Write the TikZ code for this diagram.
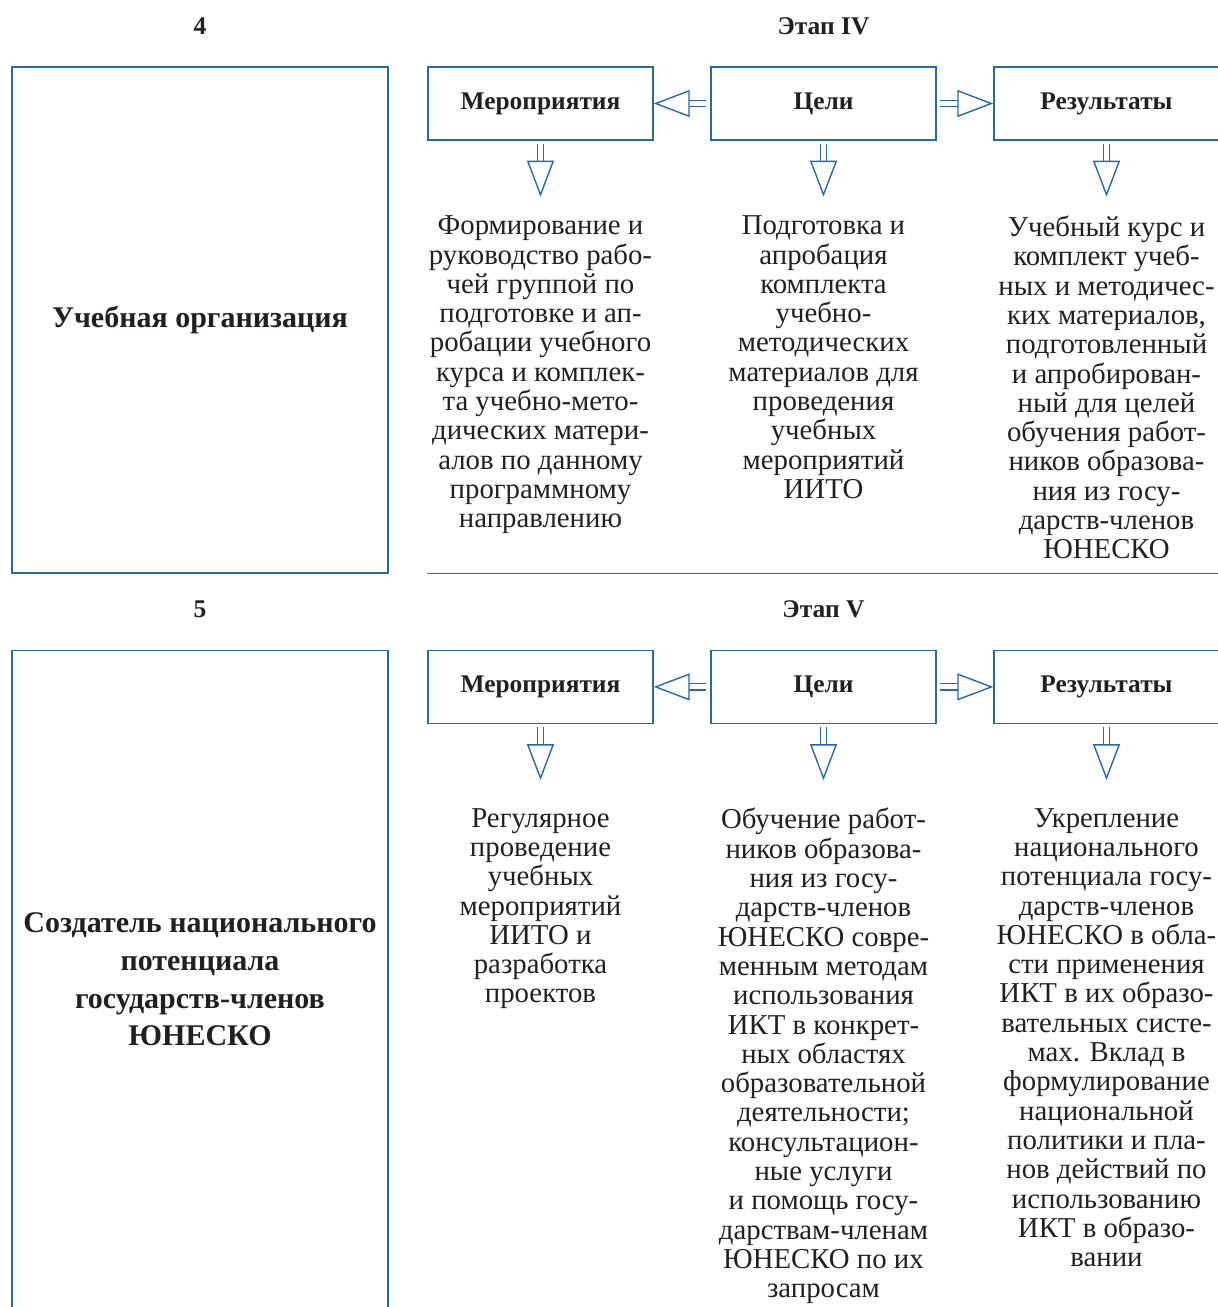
\documentclass[tikz,border=0pt]{standalone}
\usepackage{fontspec}
\setmainfont{Liberation Serif}
\usetikzlibrary{positioning,arrows.meta}

\definecolor{frameblue}{RGB}{38,104,170}
\definecolor{inkgray}{RGB}{35,31,32}

\tikzset{
  stage/.style={font=\bfseries\fontsize{25.5}{28}\selectfont, text=inkgray},
  role/.style={draw=frameblue, line width=1.4pt, minimum width=376pt, align=center,
    text=inkgray, font=\bfseries\fontsize{30}{37.7}\selectfont},
  head/.style={draw=frameblue, line width=1.4pt, minimum width=225pt, minimum height=73pt,
    text=inkgray, font=\bfseries\fontsize{25.4}{30}\selectfont},
  info/.style={align=center, inner sep=0pt, text=inkgray, font=\fontsize{28.8}{29.3}\selectfont},
  flow/.style={frameblue, double, double distance=5pt, line width=1.4pt, shorten <=3pt,
    -{Triangle[open, length=36pt, width=27pt]}},
  rule/.style={draw=frameblue, line width=1.4pt}
}

\begin{document}
\begin{tikzpicture}[x=1pt, y=-1pt]

  \useasboundingbox (0,0) rectangle (1218,1307);

  % stage IV
  \node (role4) [role, minimum height=506pt] at (200,320) {Учебная организация};
  \node (mer4) [head, below right=0pt and 38.6pt of role4.north east] {Мероприятия};
  \node (goal4) [head, right=56.6pt of mer4] {Цели};
  \node (res4) [head, right=56.6pt of goal4] {Результаты};
  \node (num4) [stage, above=28pt of role4] {4};
  \node (stage4) [stage, above=28pt of goal4] {Этап IV};

  \node (mertxt4) [info, below=75pt of mer4] {Формирование и\\руководство рабо-\\чей группой по\\подготовке и ап-\\робации учебного\\курса и комплек-\\та учебно-мето-\\дических матери-\\алов по данному\\программному\\направлению};
  \node (goaltxt4) [info, below=75pt of goal4] {Подготовка и\\апробация\\комплекта\\учебно-\\методических\\материалов для\\проведения\\учебных\\мероприятий\\ИИТО};
  \node (restxt4) [info, below=75pt of res4] {Учебный курс и\\комплект учеб-\\ных и методичес-\\ких материалов,\\подготовленный\\и апробирован-\\ный для целей\\обучения работ-\\ников образова-\\ния из госу-\\дарств-членов\\ЮНЕСКО};

  \draw[flow, shorten <=4pt] (goal4) -- (mer4);
  \draw[flow] (goal4) -- (res4);
  \draw[flow, shorten >=19pt] (mer4) -- (mertxt4);
  \draw[flow, shorten >=19pt] (goal4) -- (goaltxt4);
  \draw[flow, shorten >=19pt] (res4) -- (restxt4);

  \draw[rule] (role4.south -| mer4.west) -- (role4.south -| res4.east);

  % stage V
  \node (role5) [role, minimum height=658pt, below=76pt of role4] {Создатель национального\\потенциала\\государств-членов\\ЮНЕСКО};
  \node (mer5) [head, below right=0pt and 38.6pt of role5.north east] {Мероприятия};
  \node (goal5) [head, right=56.6pt of mer5] {Цели};
  \node (res5) [head, right=56.6pt of goal5] {Результаты};
  \node (num5) [stage, above=28pt of role5] {5};
  \node (stage5) [stage, above=28pt of goal5] {Этап V};

  \node (mertxt5) [info, below=84pt of mer5] {Регулярное\\проведение\\учебных\\мероприятий\\ИИТО и\\разработка\\проектов};
  \node (goaltxt5) [info, below=84pt of goal5] {Обучение работ-\\ников образова-\\ния из госу-\\дарств-членов\\ЮНЕСКО совре-\\менным методам\\использования\\ИКТ в конкрет-\\ных областях\\образовательной\\деятельности;\\консультацион-\\ные услуги\\и помощь госу-\\дарствам-членам\\ЮНЕСКО по их\\запросам};
  \node (restxt5) [info, below=84pt of res5] {Укрепление\\национального\\потенциала госу-\\дарств-членов\\ЮНЕСКО в обла-\\сти применения\\ИКТ в их образо-\\вательных систе-\\мах. Вклад в\\формулирование\\национальной\\политики и пла-\\нов действий по\\использованию\\ИКТ в образо-\\вании};

  \draw[flow, shorten <=4pt] (goal5) -- (mer5);
  \draw[flow] (goal5) -- (res5);
  \draw[flow, shorten >=28pt] (mer5) -- (mertxt5);
  \draw[flow, shorten >=28pt] (goal5) -- (goaltxt5);
  \draw[flow, shorten >=28pt] (res5) -- (restxt5);

\end{tikzpicture}
\end{document}
